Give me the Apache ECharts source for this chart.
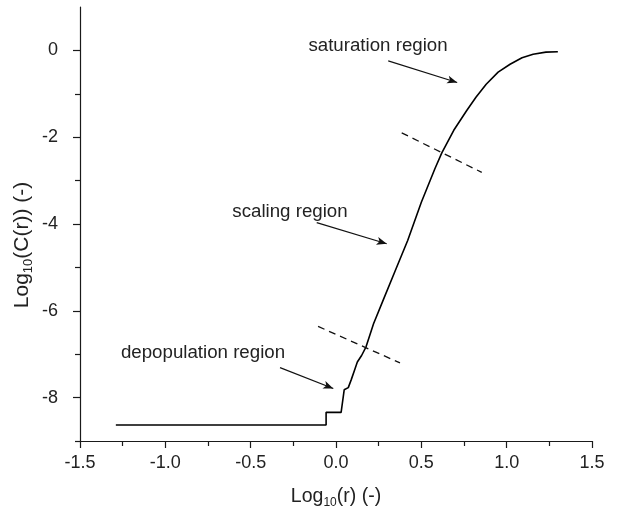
<!DOCTYPE html>
<html>
<head>
<meta charset="utf-8">
<script src="https://cdn.jsdelivr.net/npm/echarts@6/dist/echarts.min.js"></script>
<style>
  html, body { margin: 0; padding: 0; background: #fff; }
  #chart { width: 627px; height: 521px; }
</style>
</head>
<body>
<div id="chart"></div>
<script>
// Correlation integral curve: log10(r) against log10(C(r))
const logR = [-1.29, -0.058, -0.058, 0.03, 0.048, 0.072, 0.09, 0.11, 0.125, 0.15, 0.176,
              0.22, 0.28, 0.35, 0.42, 0.50, 0.58, 0.62, 0.69, 0.765, 0.82, 0.88, 0.95,
              1.02, 1.09, 1.155, 1.23, 1.30];
const logC = [-8.63, -8.63, -8.34, -8.34, -7.82, -7.77, -7.58, -7.35, -7.18, -7.03, -6.83,
              -6.30, -5.72, -5.05, -4.38, -3.50, -2.72, -2.36, -1.84, -1.39, -1.08, -0.78, -0.50,
              -0.32, -0.17, -0.09, -0.04, -0.03];

// Dashed separators between regions
const lowerSepX = [-0.105, 0.375];
const lowerSepY = [-6.36, -7.20];
const upperSepX = [0.385, 0.854];
const upperSepY = [-1.90, -2.81];

// Region labels and arrows: [tail x, tail y], [head x, head y]
const regionNames = ['saturation region', 'scaling region', 'depopulation region'];
const arrowTails = [[0.306, -0.24], [-0.113, -3.97], [-0.328, -7.31]];
const arrowHeads = [[0.71, -0.74], [0.297, -4.455], [-0.016, -7.79]];
const labelAnchors = [[378, 46], [290, 212], [203, 353]];

// Tick values
const xTickStep = 0.5;
const yMajorTicks = [-8, -6, -4, -2, 0];
const yMinorTicks = [-9, -7, -5, -3, -1];

const FONT = "'Liberation Sans', Arial, Helvetica, sans-serif";
const INK = '#1a1a1a';

const chart = echarts.init(document.getElementById('chart'), null, { renderer: 'canvas' });

const zip = (xs, ys) => xs.map((x, i) => [x, ys[i]]);

chart.setOption({
  animation: false,
  backgroundColor: '#fff',
  grid: { left: 80, right: 35, top: 7, bottom: 80 },
  xAxis: {
    type: 'value', min: -1.5, max: 1.5, interval: xTickStep,
    axisLine: { onZero: false, lineStyle: { color: INK, width: 1.2 } },
    axisTick: { show: true, inside: false, length: 7, lineStyle: { color: INK, width: 1.2 } },
    minorTick: { show: true, splitNumber: 2, length: 5, lineStyle: { color: INK, width: 1.2 } },
    splitLine: { show: false },
    axisLabel: { color: '#222', fontSize: 18, fontFamily: FONT, margin: 13,
                 formatter: v => v.toFixed(1) }
  },
  yAxis: [{
    type: 'value', min: -9, max: 1,
    axisLine: { show: true, onZero: false, lineStyle: { color: INK, width: 1.2 } },
    axisTick: { show: true, inside: false, length: 7, customValues: yMajorTicks,
                lineStyle: { color: INK, width: 1.2 } },
    splitLine: { show: false },
    axisLabel: { color: '#222', fontSize: 18, fontFamily: FONT, margin: 22,
                 customValues: yMajorTicks, formatter: v => String(v) }
  }, {
    type: 'value', min: -9, max: 1, position: 'left',
    axisLine: { show: false, onZero: false },
    axisTick: { show: true, inside: false, length: 5, customValues: yMinorTicks,
                lineStyle: { color: INK, width: 1.2 } },
    splitLine: { show: false },
    axisLabel: { show: false }
  }],
  series: [
    {
      type: 'line', name: 'C(r)', data: zip(logR, logC),
      showSymbol: false, smooth: false,
      lineStyle: { color: '#000', width: 1.6 }
    },
    {
      type: 'line', data: zip(lowerSepX, lowerSepY), showSymbol: false,
      lineStyle: { color: '#111', width: 1.3, type: [7, 5] }
    },
    {
      type: 'line', data: zip(upperSepX, upperSepY), showSymbol: false,
      lineStyle: { color: '#111', width: 1.3, type: [7, 5] }
    },
    {
      type: 'line', data: [],
      markLine: {
        silent: true, animation: false,
        symbol: ['none', 'arrow'], symbolSize: [6, 10],
        label: { show: false },
        lineStyle: { color: '#111', width: 1.2, type: 'solid' },
        data: arrowTails.map((t, i) => [{ coord: t }, { coord: arrowHeads[i] }])
      }
    }
  ],
  graphic: [
    ...regionNames.map((name, i) => ({
      type: 'text', x: labelAnchors[i][0], y: labelAnchors[i][1],
      style: { text: name, fontSize: 18.7, fontFamily: FONT, fill: '#222',
               align: 'center', verticalAlign: 'middle' }
    })),
    {
      type: 'text', x: 336, y: 497,
      style: {
        text: '{a|Log}{s|10}{a|(r) (-)}',
        align: 'center', verticalAlign: 'middle',
        rich: {
          a: { fontSize: 19.5, fontFamily: FONT, fill: '#222', lineHeight: 24 },
          s: { fontSize: 12, fontFamily: FONT, fill: '#222', verticalAlign: 'bottom', lineHeight: 14 }
        }
      }
    },
    {
      type: 'text', x: 22, y: 245, rotation: Math.PI / 2,
      style: {
        text: '{a|Log}{s|10}{a|(C(r)) (-)}',
        align: 'center', verticalAlign: 'middle',
        rich: {
          a: { fontSize: 21, fontFamily: FONT, fill: '#222', lineHeight: 26 },
          s: { fontSize: 13, fontFamily: FONT, fill: '#222', verticalAlign: 'bottom', lineHeight: 15 }
        }
      }
    }
  ]
});
</script>
</body>
</html>
